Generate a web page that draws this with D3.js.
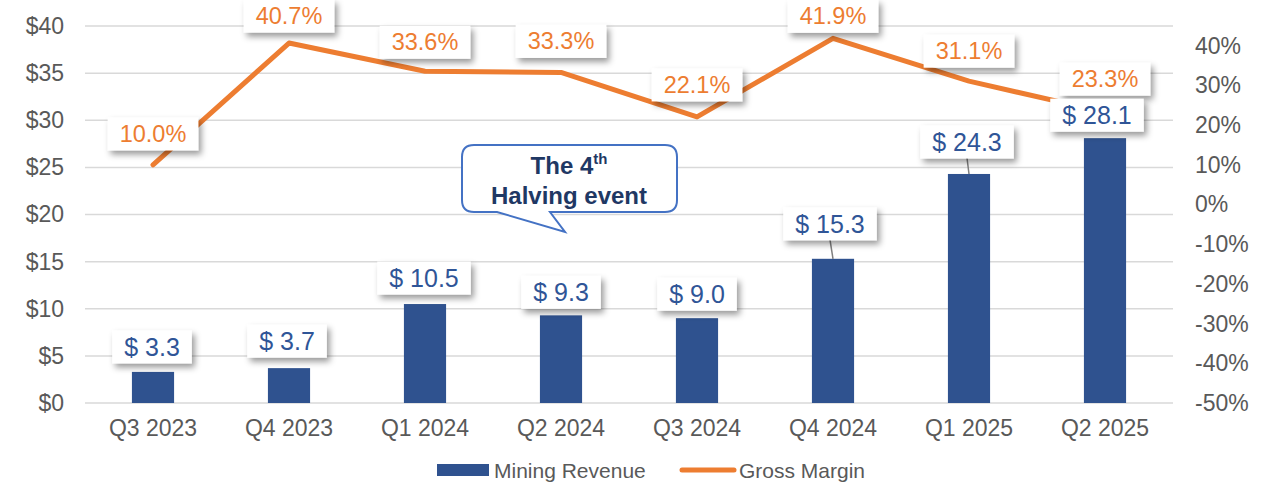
<!DOCTYPE html>
<html>
<head>
<meta charset="utf-8">
<script src="https://cdn.jsdelivr.net/npm/d3@7"></script>
<style>
  body { margin: 0; background: #fff; }
  svg { display: block; font-family: "Liberation Sans", Arial, sans-serif; }
</style>
</head>
<body>
<svg id="chart" width="1276" height="483"></svg>
<script>
const quarters = ["Q3 2023", "Q4 2023", "Q1 2024", "Q2 2024", "Q3 2024", "Q4 2024", "Q1 2025", "Q2 2025"];
const revenue = [3.3, 3.7, 10.5, 9.3, 9.0, 15.3, 24.3, 28.1];
const margin = [10.0, 40.7, 33.6, 33.3, 22.1, 41.9, 31.1, 23.3];
const leftTicks = [0, 5, 10, 15, 20, 25, 30, 35, 40];
const rightTicks = [-50, -40, -30, -20, -10, 0, 10, 20, 30, 40];

// label nudges (px) so boxes sit like the original
const revLabelDx = [-1, -2, -1, 0, 0, -3, -2, -8];
const revLabelDy = [-25, -27, -26, -23, -24, -35, -32, -23];
const mgnLabelDy = [-31, -27, -29, -31, -32, -22, -30, -33];

const blue = "#2F528F", orange = "#ED7D31", grid = "#d9d9d9", tickColor = "#595959";

const svg = d3.select("#chart");
const defs = svg.append("defs");
defs.append("filter").attr("id", "shadow")
  .attr("x", "-20%").attr("y", "-30%").attr("width", "150%").attr("height", "170%")
  .append("feDropShadow")
  .attr("dx", 3).attr("dy", 4).attr("stdDeviation", 3)
  .attr("flood-color", "#000").attr("flood-opacity", 0.4);

const x = d3.scaleBand().domain(quarters).range([85, 1173])
  .paddingInner(0.69).paddingOuter(0.345);
const yL = d3.scaleLinear().domain([0, 40]).range([403, 26]);
const yR = d3.scaleLinear().domain([-50, 45]).range([403, 26]);
const cx = q => x(q) + x.bandwidth() / 2;

// gridlines
svg.append("g").selectAll("line").data(leftTicks).enter().append("line")
  .attr("x1", 85).attr("x2", 1173)
  .attr("y1", d => yL(d)).attr("y2", d => yL(d))
  .attr("stroke", grid).attr("stroke-width", 1.5);

// left axis
const axL = svg.append("g").attr("transform", "translate(64,0)")
  .call(d3.axisLeft(yL).tickValues(leftTicks).tickSize(0).tickPadding(0).tickFormat(d => "$" + d));
axL.select(".domain").remove();
axL.selectAll("text").attr("font-size", 23).attr("fill", tickColor).attr("font-family", null);

// right axis
const axR = svg.append("g").attr("transform", "translate(1195,0)")
  .call(d3.axisRight(yR).tickValues(rightTicks).tickSize(0).tickPadding(0).tickFormat(d => d + "%"));
axR.select(".domain").remove();
axR.selectAll("text").attr("font-size", 23).attr("fill", tickColor).attr("font-family", null);

// x axis
const axX = svg.append("g").attr("transform", "translate(0,420)")
  .call(d3.axisBottom(x).tickSize(0).tickPadding(0));
axX.select(".domain").remove();
axX.selectAll("text").attr("font-size", 23).attr("fill", tickColor).attr("font-family", null);

// bars
svg.append("g").selectAll("rect").data(revenue).enter().append("rect")
  .attr("x", (d, i) => x(quarters[i]))
  .attr("y", d => yL(d))
  .attr("width", x.bandwidth())
  .attr("height", d => yL(0) - yL(d))
  .attr("fill", blue);

// margin line
const line = d3.line()
  .x((d, i) => cx(quarters[i]))
  .y(d => yR(d));
svg.append("path").datum(margin)
  .attr("d", line)
  .attr("fill", "none").attr("stroke", orange).attr("stroke-width", 5)
  .attr("stroke-linejoin", "round").attr("stroke-linecap", "round");

// callout "The 4th Halving event"
const cL = 462, cR = 677, cT = 145, cB = 212, r = 12;
const tipX = cx("Q2 2024") + 4, tipY = 232;
const callout = svg.append("g");
callout.append("path")
  .attr("d", `M${cL + r},${cT} H${cR - r} Q${cR},${cT} ${cR},${cT + r} V${cB - r} Q${cR},${cB} ${cR - r},${cB}
    H${cL + 88} L${tipX},${tipY} L${cL + 35},${cB} H${cL + r} Q${cL},${cB} ${cL},${cB - r} V${cT + r} Q${cL},${cT} ${cL + r},${cT} Z`)
  .attr("fill", "#fff").attr("stroke", "#4472C4").attr("stroke-width", 2);
const ct = callout.append("text").attr("text-anchor", "middle").attr("fill", "#1F3864")
  .attr("font-weight", "bold").attr("font-size", 24);
ct.append("tspan").attr("x", 569).attr("y", 174).text("The 4");
ct.append("tspan").attr("dy", -10).attr("font-size", 15).text("th");
callout.append("text").attr("text-anchor", "middle").attr("fill", "#1F3864")
  .attr("font-weight", "bold").attr("font-size", 24).attr("x", 569).attr("y", 204).text("Halving event");

// label helper
function labelBox(g, text, centerX, centerY, color, size) {
  const grp = g.append("g");
  const rect = grp.append("rect").attr("fill", "#fff").attr("filter", "url(#shadow)");
  const t = grp.append("text").attr("x", centerX).attr("y", centerY)
    .attr("text-anchor", "middle").attr("dominant-baseline", "central")
    .attr("font-size", size).attr("fill", color).text(text);
  const w = t.node().getComputedTextLength() + 24, h = 33;
  rect.attr("x", centerX - w / 2).attr("y", centerY - h / 2).attr("width", w).attr("height", h);
}

// leader lines for bar labels that sit off the bar
const labels = svg.append("g");
revenue.forEach((v, i) => {
  const bx = cx(quarters[i]) + revLabelDx[i], by = yL(v) + revLabelDy[i];
  if (revLabelDy[i] < -30) {
    labels.append("line")
      .attr("x1", bx).attr("y1", by + 16).attr("x2", cx(quarters[i])).attr("y2", yL(v))
      .attr("stroke", "#7f7f7f").attr("stroke-width", 1.5);
  }
});

// margin labels
margin.forEach((v, i) => {
  labelBox(labels, v.toFixed(1) + "%", cx(quarters[i]), yR(v) + mgnLabelDy[i], orange, 23.5);
});

// revenue labels
revenue.forEach((v, i) => {
  labelBox(labels, "$ " + v.toFixed(1), cx(quarters[i]) + revLabelDx[i], yL(v) + revLabelDy[i], "#2F5597", 25);
});

// legend
const lg = svg.append("g");
lg.append("rect").attr("x", 437).attr("y", 464).attr("width", 52).attr("height", 12).attr("fill", blue);
lg.append("text").attr("x", 494).attr("y", 470).attr("dominant-baseline", "central")
  .attr("font-size", 21).attr("fill", tickColor).text("Mining Revenue");
lg.append("line").attr("x1", 682).attr("x2", 734).attr("y1", 470).attr("y2", 470)
  .attr("stroke", orange).attr("stroke-width", 5).attr("stroke-linecap", "round");
lg.append("text").attr("x", 739).attr("y", 470).attr("dominant-baseline", "central")
  .attr("font-size", 21).attr("fill", tickColor).text("Gross Margin");
</script>
</body>
</html>
